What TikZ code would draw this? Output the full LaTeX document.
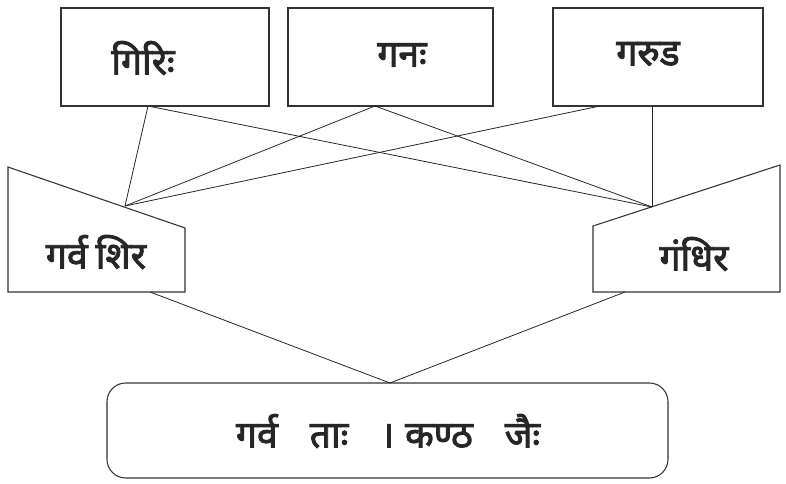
\documentclass[tikz,border=0pt]{standalone}
\usepackage{fontspec}
\newfontfamily\deva[Script=Devanagari,FakeBold=2.5]{Noto Sans}
\begin{document}
\begin{tikzpicture}[x=0.75pt,y=-0.75pt,
  shapeline/.style={draw=black!80, line width=0.8pt},
  conn/.style={draw=black!85, line width=0.6pt},
  lbl/.style={font=\deva\fontsize{28}{30}\selectfont, text=black!85, inner sep=0pt}]
\useasboundingbox (0,0) rectangle (786,484);
% top boxes
\draw[shapeline] (61,8) rectangle (269,106);
\draw[shapeline] (288,8) rectangle (493,106);
\draw[shapeline] (553,8) rectangle (763,106);
\node[lbl] (t1) at (143,58) {गिरिः};
\node[lbl] (t2) at (402,55) {गनः};
\node[lbl] (t3) at (648,54) {गरुड};
% middle shapes
\draw[shapeline] (8,167) -- (185,228) -- (185,292) -- (8,292) -- cycle;
\draw[shapeline] (593,226) -- (780,165) -- (780,292) -- (593,292) -- cycle;
\node[lbl] (m1) at (96,252) {गर्व\hspace{6pt}शिर};
\node[lbl] (m2) at (694,254) {गंधिर};
% bottom
\draw[shapeline, rounded corners=14pt] (107,383) rectangle (668,478);
\node[lbl] (b) at (388,431) {गर्व\hspace{24pt}ताः\hspace{24pt}।\hspace{8pt}कण्ठ\hspace{24pt}जैः};
% connector anchors
\coordinate (a1) at (148,106);
\coordinate (a2) at (375,106);
\coordinate (a3) at (600,106);
\coordinate (a4) at (652,106);
\coordinate (jl) at (125,206);
\coordinate (jr) at (652,207);
\coordinate (bl) at (150,292);
\coordinate (br) at (625,292);
\coordinate (jb) at (390,383);
\draw[conn] (a1) -- (jl);
\draw[conn] (a1) -- (jr);
\draw[conn] (a2) -- (jl);
\draw[conn] (a2) -- (jr);
\draw[conn] (a3) -- (jl);
\draw[conn] (a4) -- (jr);
\draw[conn] (bl) -- (jb);
\draw[conn] (br) -- (jb);
\end{tikzpicture}
\end{document}
